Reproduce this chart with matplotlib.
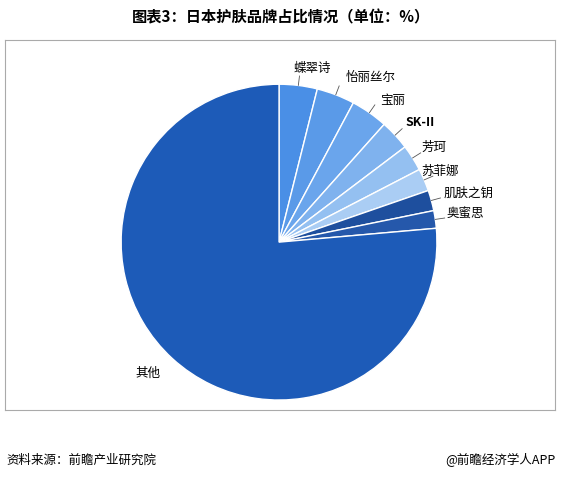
import matplotlib.pyplot as plt
import numpy as np

plt.rcParams['font.family'] = ['Noto Sans CJK SC', 'DejaVu Sans']

brands = ['蝶翠诗', '怡丽丝尔', '宝丽', 'SK-II', '芳珂', '苏菲娜', '肌肤之钥', '奥蜜思', '其他']
shares = [3.9, 3.9, 3.8, 3.1, 2.7, 2.3, 2.1, 1.8, 76.4]
colors = ['#4a8fe6', '#5a9ae8', '#6aa5ec', '#7fb2ee', '#94c0f1', '#aacdf4', '#1e4f9e', '#2558ab', '#1d5bb8']

fig = plt.figure(figsize=(5.62, 4.79), dpi=100)
ax = fig.add_axes([0.009, 0.144, 0.979, 0.772])
ax.set_xticks([]); ax.set_yticks([])
for s in ax.spines.values():
    s.set_color('#aaaaaa'); s.set_linewidth(0.8)

pax = fig.add_axes([0.103, 0.033, 0.787, 0.923])
wedges, _ = pax.pie(shares, colors=colors, startangle=90, counterclock=False,
                    wedgeprops=dict(edgecolor='white', linewidth=1))
pax.set_xlim(-1.4, 1.4); pax.set_ylim(-1.4, 1.4)
pax.set_aspect('equal')

label_pos = [(0.09, 1.1), (0.42, 1.04), (0.64, 0.9), (0.8, 0.76), (0.9, 0.6),
             (0.9, 0.45), (1.04, 0.31), (1.06, 0.18), None]
for w, txt, lp in zip(wedges, brands, label_pos):
    ang = np.deg2rad((w.theta1 + w.theta2) / 2)
    x, y = np.cos(ang), np.sin(ang)
    if lp is None:
        pax.text(-0.75, -0.83, txt, fontsize=9, ha='right', va='center')
        continue
    lx, ly = lp
    pax.plot([x, 1.06 * x], [y, 1.06 * y], color='#555555', lw=0.6)
    pax.text(lx, ly, txt, fontsize=9, ha='left', va='center',
             fontweight='bold' if txt == 'SK-II' else 'normal')

fig.text(0.5, 0.963, '图表3：日本护肤品牌占比情况（单位：%）', ha='center', va='center',
         fontsize=11, fontweight='bold')
fig.text(0.012, 0.04, '资料来源：前瞻产业研究院', ha='left', va='center', fontsize=9)
fig.text(0.988, 0.04, '@前瞻经济学人APP', ha='right', va='center', fontsize=9)
fig.savefig('out.png', dpi=100, facecolor='white')
